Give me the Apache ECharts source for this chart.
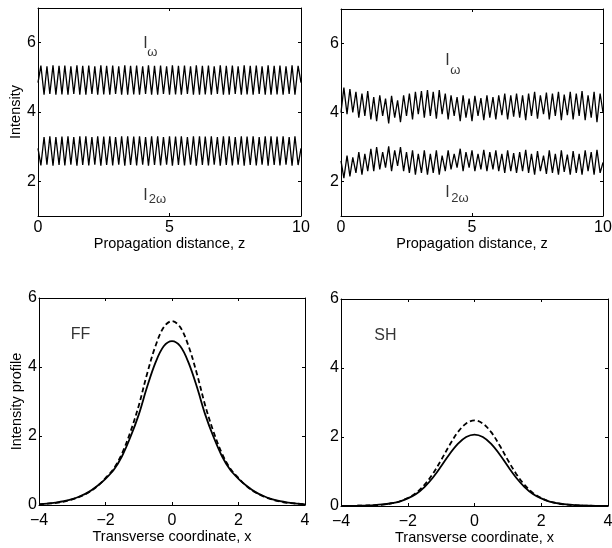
<!DOCTYPE html>
<html>
<head>
<meta charset="utf-8">
<script src="https://cdn.jsdelivr.net/npm/echarts@6/dist/echarts.min.js"></script>
<style>
html,body{margin:0;padding:0;background:#fff;}
#chart{width:612px;height:548px;}
</style>
</head>
<body>
<div id="chart"></div>
<script>
// ---------- data ----------
const zSamples = [0,0.11,0.23,0.34,0.45,0.57,0.68,0.8,0.91,1.02,1.14,1.25,1.36,1.48,1.59,1.7,1.82,1.93,2.05,2.16,2.27,2.39,2.5,2.61,2.73,2.84,2.95,3.07,3.18,3.3,3.41,3.52,3.64,3.75,3.86,3.98,4.09,4.2,4.32,4.43,4.55,4.66,4.77,4.89,5,5.11,5.23,5.34,5.45,5.57,5.68,5.8,5.91,6.02,6.14,6.25,6.36,6.48,6.59,6.7,6.82,6.93,7.05,7.16,7.27,7.39,7.5,7.61,7.73,7.84,7.95,8.07,8.18,8.3,8.41,8.52,8.64,8.75,8.86,8.98,9.09,9.2,9.32,9.43,9.55,9.66,9.77,9.89,10];

const iwLeft = [4.85,5.34,4.5,5.32,4.52,5.35,4.5,5.33,4.51,5.34,4.5,5.32,4.52,5.35,4.5,5.33,4.5,5.34,4.52,5.32,4.5,5.35,4.51,5.33,4.5,5.34,4.52,5.32,4.5,5.35,4.5,5.33,4.51,5.34,4.5,5.32,4.52,5.35,4.5,5.33,4.5,5.34,4.52,5.32,4.5,5.35,4.51,5.33,4.5,5.34,4.52,5.32,4.5,5.35,4.5,5.33,4.51,5.34,4.5,5.32,4.52,5.35,4.5,5.33,4.5,5.34,4.52,5.32,4.5,5.35,4.51,5.33,4.5,5.34,4.52,5.32,4.5,5.35,4.5,5.33,4.51,5.34,4.5,5.32,4.52,5.35,4.5,5.33,4.85];

const i2wLeft = [2.95,2.46,3.28,2.48,3.3,2.45,3.28,2.47,3.29,2.46,3.3,2.48,3.28,2.45,3.3,2.47,3.3,2.46,3.28,2.48,3.3,2.45,3.29,2.47,3.3,2.46,3.28,2.48,3.3,2.45,3.3,2.47,3.29,2.46,3.3,2.48,3.28,2.45,3.3,2.47,3.3,2.46,3.28,2.48,3.3,2.45,3.29,2.47,3.3,2.46,3.28,2.48,3.3,2.45,3.3,2.47,3.29,2.46,3.3,2.48,3.28,2.45,3.3,2.47,3.3,2.46,3.28,2.48,3.3,2.45,3.29,2.47,3.3,2.46,3.28,2.48,3.3,2.45,3.3,2.47,3.29,2.46,3.3,2.48,3.28,2.45,3.3,2.47,2.95];

const iwRight = [4.0,4.72,3.95,4.68,4.0,4.6,3.85,4.55,3.9,4.62,3.8,4.45,3.75,4.5,3.9,4.4,3.68,4.48,3.85,4.35,3.72,4.5,3.9,4.55,3.8,4.6,3.95,4.62,3.85,4.65,3.9,4.6,3.82,4.65,3.95,4.55,3.8,4.5,3.9,4.45,3.75,4.5,3.85,4.4,3.75,4.48,3.9,4.42,3.78,4.5,3.85,4.45,3.8,4.5,3.92,4.55,3.8,4.5,3.88,4.55,3.85,4.5,3.78,4.55,3.9,4.6,3.82,4.5,3.95,4.58,3.8,4.55,3.9,4.6,3.78,4.52,3.92,4.6,3.8,4.55,3.9,4.62,3.78,4.5,3.85,4.6,3.72,4.55,4.0];

const i2wRight = [2.6,2.1,2.75,2.15,2.7,2.25,2.85,2.2,2.8,2.3,2.95,2.3,3.0,2.35,2.85,2.4,3.02,2.3,2.9,2.45,3.0,2.3,2.85,2.25,2.9,2.2,2.8,2.25,2.9,2.2,2.8,2.25,2.9,2.2,2.75,2.3,2.9,2.35,2.8,2.4,2.95,2.3,2.85,2.4,2.9,2.3,2.8,2.35,2.92,2.3,2.85,2.35,2.9,2.3,2.8,2.25,2.9,2.3,2.82,2.25,2.85,2.3,2.92,2.25,2.8,2.2,2.88,2.3,2.75,2.22,2.9,2.25,2.8,2.2,2.9,2.28,2.78,2.2,2.88,2.25,2.8,2.2,2.9,2.3,2.85,2.2,2.92,2.25,2.55];

const xSamples = [-4,-3.75,-3.5,-3.25,-3,-2.75,-2.5,-2.25,-2,-1.75,-1.5,-1.25,-1,-0.75,-0.5,-0.25,0,0.25,0.5,0.75,1,1.25,1.5,1.75,2,2.25,2.5,2.75,3,3.25,3.5,3.75,4];

const ffSolid  = [0.02,0.04,0.07,0.11,0.17,0.26,0.38,0.55,0.76,1.02,1.42,1.97,2.62,3.42,4.12,4.6,4.75,4.6,4.12,3.42,2.62,1.97,1.42,1.02,0.76,0.55,0.38,0.26,0.17,0.11,0.07,0.04,0.02];
const ffDashed = [0.02,0.04,0.06,0.1,0.16,0.25,0.37,0.54,0.78,1.06,1.5,2.12,2.88,3.8,4.6,5.15,5.33,5.15,4.6,3.8,2.88,2.12,1.5,1.06,0.78,0.54,0.37,0.25,0.16,0.1,0.06,0.04,0.02];
const shSolid  = [0.002,0.004,0.008,0.015,0.025,0.045,0.08,0.13,0.22,0.35,0.55,0.82,1.15,1.5,1.8,2.0,2.07,2.0,1.8,1.5,1.15,0.82,0.55,0.35,0.22,0.13,0.08,0.045,0.025,0.015,0.008,0.004,0.002];
const shDashed = [0.002,0.004,0.007,0.012,0.022,0.04,0.075,0.13,0.23,0.38,0.61,0.93,1.33,1.76,2.14,2.39,2.48,2.39,2.14,1.76,1.33,0.93,0.61,0.38,0.23,0.13,0.075,0.04,0.022,0.012,0.007,0.004,0.002];

const topYTicks = [2, 4, 6];
const bottomYTicks = [0, 2, 4, 6];

// annotation texts with data coordinates [text, x, y]
const annotTL = [['I', 4.09, 5.96], ['ω', 4.35, 5.71], ['I', 4.09, 1.59], ['2ω', 4.54, 1.47]];
const annotTR = [['I', 4.06, 5.50], ['ω', 4.36, 5.21], ['I', 4.06, 1.68], ['2ω', 4.54, 1.50]];
const annotBL = [['FF', -2.75, 4.93]];
const annotBR = [['SH', -2.67, 4.95]];

// ---------- chart ----------
const FONT = 'Liberation Sans, Arial, Helvetica, sans-serif';
const chart = echarts.init(document.getElementById('chart'), null, {renderer: 'canvas'});

const grids = [
  {left: 38, top: 8, width: 263, height: 208},
  {left: 341, top: 9, width: 262, height: 207},
  {left: 39, top: 298, width: 266, height: 207},
  {left: 341, top: 299, width: 267, height: 207}
].map(g => Object.assign({containLabel: false, outerBoundsMode: 'none', show: false}, g));

function minusFmt(v) { return String(v).replace('-', '\u2212'); }

const xAxes = [], yAxes = [];
function addAxes(gi, isTop, xName, yName) {
  const xmin = isTop ? 0 : -4, xmax = isTop ? 10 : 4, xint = isTop ? 5 : 2;
  const common = {gridIndex: gi, type: 'value', min: xmin, max: xmax, interval: xint,
    axisLine: {show: true, onZero: false, lineStyle: {color: '#000', width: 1}},
    axisTick: {show: true, inside: true, length: 3, lineStyle: {color: '#000', width: 1}},
    splitLine: {show: false}};
  xAxes.push(Object.assign({}, common, {position: 'bottom',
    axisLabel: {show: true, color: '#000', fontSize: 16, fontFamily: FONT, margin: isTop ? 4 : 8, formatter: minusFmt},
    name: xName, nameLocation: 'middle', nameGap: isTop ? 19 : 24,
    nameTextStyle: {color: '#000', fontSize: 14.5, fontFamily: FONT}}));
  xAxes.push(Object.assign({}, common, {position: 'top', axisLabel: {show: false}}));

  const ymin = isTop ? 1 : 0, ymax = isTop ? 7 : 6;
  const ticks = isTop ? topYTicks : bottomYTicks;
  const ycommon = {gridIndex: gi, type: 'value', min: ymin, max: ymax, interval: 1,
    axisLine: {show: true, onZero: false, lineStyle: {color: '#000', width: 1}},
    axisTick: {show: true, inside: true, length: 3, customValues: ticks, lineStyle: {color: '#000', width: 1}},
    splitLine: {show: false}};
  yAxes.push(Object.assign({}, ycommon, {position: 'left',
    axisLabel: {show: true, color: '#000', fontSize: 16, fontFamily: FONT, margin: 2, customValues: ticks},
    name: yName, nameLocation: 'middle', nameGap: 13, nameRotate: 90,
    nameTextStyle: {color: '#000', fontSize: 14.5, fontFamily: FONT}}));
  yAxes.push(Object.assign({}, ycommon, {position: 'right', axisLabel: {show: false}}));
}
addAxes(0, true, 'Propagation distance, z', 'Intensity');
addAxes(1, true, 'Propagation distance, z', '');
addAxes(2, false, 'Transverse coordinate, x', 'Intensity profile');
addAxes(3, false, 'Transverse coordinate, x', '');

function pair(xs, ys) { return xs.map((x, i) => [x, ys[i]]); }

function lineSeries(gi, xs, ys, opts) {
  return Object.assign({
    type: 'line', xAxisIndex: gi * 2, yAxisIndex: gi * 2,
    data: pair(xs, ys), showSymbol: false, symbol: 'none', animation: false,
    lineStyle: {color: '#000', width: 1.3}, z: 3, silent: true
  }, opts || {});
}

function annotStyled(gi, arr) {
  return {
    type: 'scatter', xAxisIndex: gi * 2, yAxisIndex: gi * 2, symbolSize: 1,
    itemStyle: {color: 'rgba(0,0,0,0)'}, animation: false, silent: true, z: 5,
    data: arr.map(a => {
      const sub = (a[0] !== 'I' && gi < 2);
      return {value: [a[1], a[2]], name: a[0],
        label: {fontSize: sub ? 13 : 16}};
    }),
    label: {show: true, position: 'inside', color: '#000', fontFamily: FONT,
      formatter: p => p.name}
  };
}

const series = [
  lineSeries(0, zSamples, iwLeft),
  lineSeries(0, zSamples, i2wLeft),
  lineSeries(1, zSamples, iwRight),
  lineSeries(1, zSamples, i2wRight),
  lineSeries(2, xSamples, ffDashed, {smooth: 0.35, lineStyle: {color: '#000', width: 1.8, type: [5, 3]}}),
  lineSeries(2, xSamples, ffSolid, {smooth: 0.35, lineStyle: {color: '#000', width: 1.8}}),
  lineSeries(3, xSamples, shDashed, {smooth: 0.35, lineStyle: {color: '#000', width: 1.8, type: [5, 3]}}),
  lineSeries(3, xSamples, shSolid, {smooth: 0.35, lineStyle: {color: '#000', width: 1.8}}),
  annotStyled(0, annotTL),
  annotStyled(1, annotTR),
  annotStyled(2, annotBL),
  annotStyled(3, annotBR)
];

chart.setOption({
  backgroundColor: '#fff',
  animation: false,
  grid: grids,
  xAxis: xAxes,
  yAxis: yAxes,
  series: series
});
</script>
</body>
</html>
